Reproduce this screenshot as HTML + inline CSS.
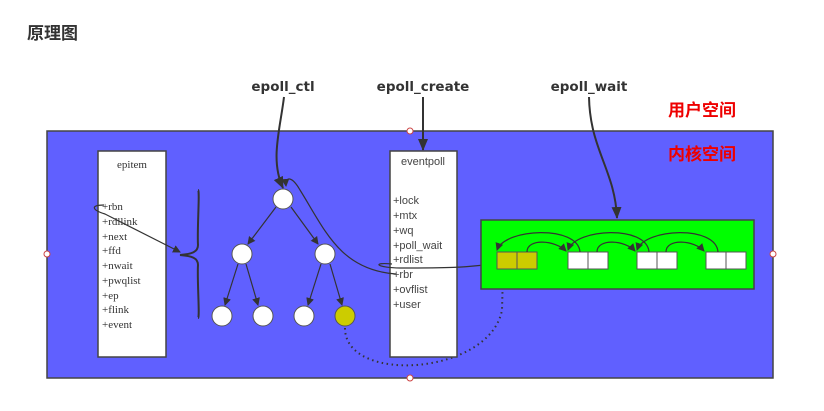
<!DOCTYPE html>
<html><head><meta charset="utf-8">
<style>
html,body{margin:0;padding:0;background:#fff;}
body{width:824px;height:411px;overflow:hidden;position:relative;}
svg{position:absolute;left:0;top:0;}
</style></head><body>
<svg width="824" height="411" viewBox="0 0 824 411" xmlns="http://www.w3.org/2000/svg">
<defs>
<marker id="a" markerWidth="8" markerHeight="8" refX="7" refY="4" orient="auto" markerUnits="userSpaceOnUse">
<path d="M0,0 L8,4 L0,8 Z" fill="#333"/></marker>
<marker id="b" markerWidth="12" markerHeight="10" refX="11" refY="5" orient="auto" markerUnits="userSpaceOnUse">
<path d="M0,0 L12,5 L0,10 Z" fill="#333"/></marker>
</defs>
<text x="27" y="39" font-family="Liberation Sans, Noto Sans CJK SC, sans-serif" font-size="17" font-weight="bold" fill="#333">原理图</text>

<rect x="47" y="131" width="726" height="247" fill="#6060ff" stroke="#444" stroke-width="1.5"/>

<text x="283" y="91" text-anchor="middle" font-family="DejaVu Sans, sans-serif" font-size="13.5" font-weight="bold" fill="#333">epoll_ctl</text>
<text x="423" y="91" text-anchor="middle" font-family="DejaVu Sans, sans-serif" font-size="13.5" font-weight="bold" fill="#333">epoll_create</text>
<text x="589" y="91" text-anchor="middle" font-family="DejaVu Sans, sans-serif" font-size="13.5" font-weight="bold" fill="#333">epoll_wait</text>
<text x="668" y="116" font-family="Liberation Sans, Noto Sans CJK SC, sans-serif" font-size="17" font-weight="bold" fill="#e00">用户空间</text>
<text x="668" y="160" font-family="Liberation Sans, Noto Sans CJK SC, sans-serif" font-size="17" font-weight="bold" fill="#e00">内核空间</text>

<path d="M284,97 C280,130 270,160 283,188" fill="none" stroke="#333" stroke-width="2" marker-end="url(#b)"/>
<path d="M423,97 L423,150" fill="none" stroke="#333" stroke-width="2" marker-end="url(#b)"/>
<path d="M589,97 C590,150 615,170 617,218" fill="none" stroke="#333" stroke-width="2" marker-end="url(#b)"/>

<path d="M345,328 C345,385 490,375 502,310 L503,272" fill="none" stroke="#333" stroke-width="2" stroke-dasharray="1.5,3.5" marker-end="url(#a)"/>

<rect x="98" y="151" width="68" height="206" fill="#fff" stroke="#444" stroke-width="1.5"/>
<g font-family="Liberation Serif, serif" font-size="11" fill="#333">
<text x="132" y="168" text-anchor="middle">epitem</text>
<text x="102" y="210">+rbn</text>
<text x="102" y="225">+rdllink</text>
<text x="102" y="240">+next</text>
<text x="102" y="254">+ffd</text>
<text x="102" y="269">+nwait</text>
<text x="102" y="284">+pwqlist</text>
<text x="102" y="299">+ep</text>
<text x="102" y="313">+flink</text>
<text x="102" y="328">+event</text>
</g>
<path d="M104,205 C90,205 92,210 105,214 L180,252" fill="none" stroke="#333" stroke-width="1.2" marker-end="url(#a)"/>
<path d="M198,190 C200,190 197,230 198,245 C198,252 192,254 180,255 C192,256 198,258 198,265 C197,280 200,318 198,318" fill="none" stroke="#333" stroke-width="2"/>

<rect x="390" y="151" width="67" height="206" fill="#fff" stroke="#444" stroke-width="1.5"/>
<g font-family="Liberation Sans, sans-serif" font-size="11" fill="#444">
<text x="423" y="165" text-anchor="middle">eventpoll</text>
<text x="393" y="204">+lock</text>
<text x="393" y="219">+mtx</text>
<text x="393" y="234">+wq</text>
<text x="393" y="249">+poll_wait</text>
<text x="393" y="263">+rdlist</text>
<text x="393" y="278">+rbr</text>
<text x="393" y="293">+ovflist</text>
<text x="393" y="308">+user</text>
</g>

<g stroke="#333" stroke-width="1.2" fill="none">
<line x1="276" y1="207" x2="248" y2="244" marker-end="url(#a)"/>
<line x1="291" y1="207" x2="318" y2="244" marker-end="url(#a)"/>
<line x1="238" y1="264" x2="225" y2="305" marker-end="url(#a)"/>
<line x1="246" y1="264" x2="258" y2="305" marker-end="url(#a)"/>
<line x1="321" y1="264" x2="308" y2="305" marker-end="url(#a)"/>
<line x1="330" y1="264" x2="342" y2="305" marker-end="url(#a)"/>
</g>
<g stroke="#555" stroke-width="1" fill="#fff">
<circle cx="283" cy="199" r="10"/>
<circle cx="242" cy="254" r="10"/>
<circle cx="325" cy="254" r="10"/>
<circle cx="222" cy="316" r="10"/>
<circle cx="263" cy="316" r="10"/>
<circle cx="304" cy="316" r="10"/>
<circle cx="345" cy="316" r="10" fill="#cccc00"/>
</g>
<path d="M396,274 C340,270 325,230 300,190 C292,176 285,176 286,186" fill="none" stroke="#333" stroke-width="1.2" marker-end="url(#a)"/>
<path d="M392,264 C370,262 378,268 400,268 C440,268 470,268 496,263" fill="none" stroke="#333" stroke-width="1.2" marker-end="url(#a)"/>

<rect x="481" y="220" width="273" height="69" fill="#00ff00" stroke="#444" stroke-width="1.5"/>
<g stroke="#555" stroke-width="1">
<rect x="497" y="252" width="20" height="17" fill="#cccc00"/><rect x="517" y="252" width="20" height="17" fill="#cccc00"/>
<rect x="568" y="252" width="20" height="17" fill="#fff"/><rect x="588" y="252" width="20" height="17" fill="#fff"/>
<rect x="637" y="252" width="20" height="17" fill="#fff"/><rect x="657" y="252" width="20" height="17" fill="#fff"/>
<rect x="706" y="252" width="20" height="17" fill="#fff"/><rect x="726" y="252" width="20" height="17" fill="#fff"/>
</g>
<g stroke="#333" stroke-width="1.2" fill="none">
<path d="M527,252 C527,238 555,240 566,251" marker-end="url(#a)"/>
<path d="M597,252 C597,238 625,240 635,251" marker-end="url(#a)"/>
<path d="M666,252 C666,238 694,240 704,251" marker-end="url(#a)"/>
<path d="M580,252 C578,225 505,228 497,250" marker-end="url(#a)"/>
<path d="M649,252 C647,225 576,228 568,250" marker-end="url(#a)"/>
<path d="M718,252 C716,225 645,228 637,250" marker-end="url(#a)"/>
</g>

<g fill="#fff" stroke="#c44" stroke-width="1">
<circle cx="410" cy="131" r="3"/><circle cx="47" cy="254" r="3"/>
<circle cx="773" cy="254" r="3"/><circle cx="410" cy="378" r="3"/>
</g>
</svg>
</body></html>
